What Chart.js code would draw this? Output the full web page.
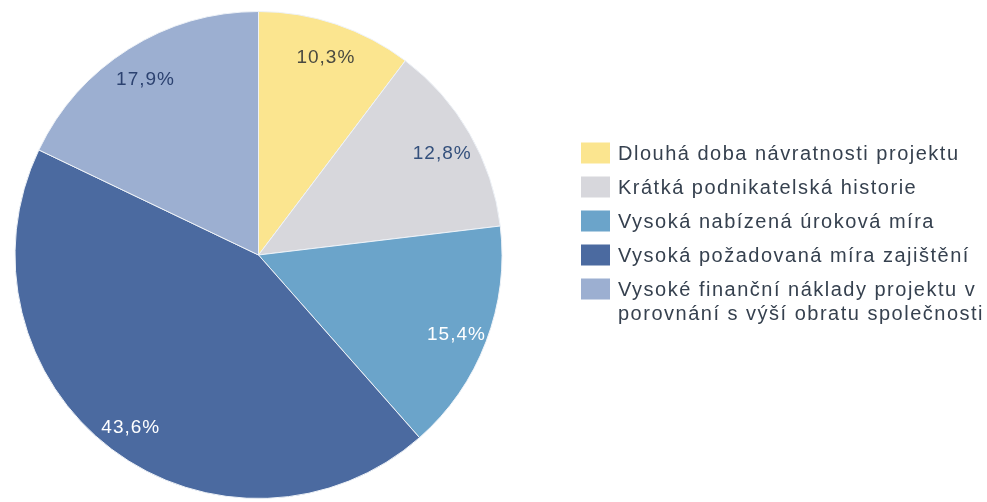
<!DOCTYPE html>
<html>
<head>
<meta charset="utf-8">
<script src="https://cdn.jsdelivr.net/npm/chart.js@4/dist/chart.umd.min.js"></script>
<style>
  html, body { margin: 0; padding: 0; background: #ffffff; }
  #wrap { width: 987px; height: 502px; position: relative; }
</style>
</head>
<body>
<div id="wrap"><canvas id="chart" width="987" height="502"></canvas></div>
<script>
// Categories (legend entries) and their shares in percent
const categories = [
  'Dlouhá doba návratnosti projektu',
  'Krátká podnikatelská historie',
  'Vysoká nabízená úroková míra',
  'Vysoká požadovaná míra zajištění',
  'Vysoké finanční náklady projektu v\nporovnání s výší obratu společnosti'
];
const shares = [10.3, 12.8, 15.4, 43.6, 17.9];
const sliceColors = ['#fbe58f', '#d7d7dc', '#6ba4ca', '#4b6aa0', '#9cafd1'];
const labelColors = ['#4a4a40', '#34507c', '#ffffff', '#ffffff', '#2c4270'];

const FONT = '"Liberation Sans", Arial, sans-serif';

// Percent labels placed inside each slice
const sliceLabels = {
  id: 'sliceLabels',
  afterDatasetsDraw(chart) {
    const ctx = chart.ctx;
    const meta = chart.getDatasetMeta(0);
    const values = chart.data.datasets[0].data;
    ctx.save();
    ctx.font = '19px ' + FONT;
    ctx.letterSpacing = '1px';
    ctx.textAlign = 'center';
    ctx.textBaseline = 'middle';
    meta.data.forEach((arc, i) => {
      const p = arc.getProps(['x', 'y', 'startAngle', 'endAngle', 'outerRadius'], true);
      const mid = (p.startAngle + p.endAngle) / 2;
      const r = p.outerRadius * 0.87;
      const tx = p.x + Math.cos(mid) * r;
      const ty = p.y + Math.sin(mid) * r + 4;
      ctx.fillStyle = labelColors[i];
      ctx.fillText(values[i].toFixed(1).replace('.', ',') + '%', tx, ty);
    });
    ctx.restore();
  }
};

// Legend to the right of the pie, one colour box per category
const sideLegend = {
  id: 'sideLegend',
  afterDraw(chart) {
    const ctx = chart.ctx;
    const ds = chart.data.datasets[0];
    const boxX = 581, boxW = 29, boxH = 21;
    const textX = 618;
    let y = 153;
    const rowGap = 34, lineGap = 24;
    ctx.save();
    ctx.font = '20px ' + FONT;
    ctx.letterSpacing = '1.5px';
    ctx.textAlign = 'left';
    ctx.textBaseline = 'middle';
    chart.data.labels.forEach((label, i) => {
      ctx.fillStyle = ds.backgroundColor[i];
      ctx.fillRect(boxX, y - boxH / 2, boxW, boxH);
      ctx.fillStyle = '#36414f';
      const lines = label.split('\n');
      lines.forEach((line, k) => ctx.fillText(line, textX, y + k * lineGap + 1));
      y += rowGap + (lines.length - 1) * lineGap;
    });
    ctx.restore();
  }
};

new Chart(document.getElementById('chart'), {
  type: 'pie',
  data: {
    labels: categories,
    datasets: [{
      data: shares,
      backgroundColor: sliceColors,
      borderColor: '#eef2f7',
      borderWidth: 1
    }]
  },
  options: {
    responsive: false,
    animation: false,
    devicePixelRatio: 1,
    rotation: 0,
    layout: { padding: { left: 14, right: 484, top: 11, bottom: 3 } },
    plugins: {
      legend: { display: false },
      tooltip: { enabled: false }
    }
  },
  plugins: [sliceLabels, sideLegend]
});
</script>
</body>
</html>
